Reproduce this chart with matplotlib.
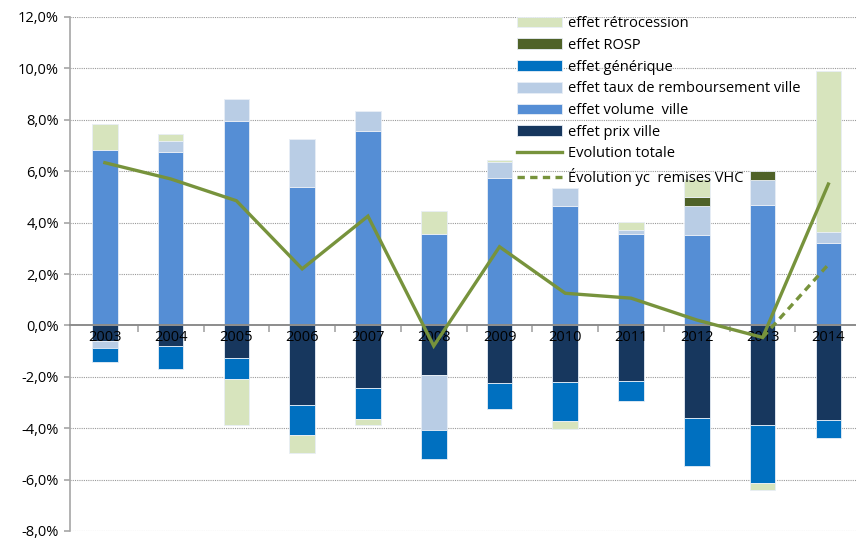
import numpy as np
import matplotlib
matplotlib.use("Agg")
import matplotlib.pyplot as plt
from matplotlib.ticker import FuncFormatter, FixedLocator

plt.rcParams['font.family'] = ['Open Sans', 'DejaVu Sans']

years = ["2003", "2004", "2005", "2006", "2007", "2008",
         "2009", "2010", "2011", "2012", "2013", "2014"]

# contributions (points de %), series order as in the source workbook
prix_ville = [-0.60, -0.80, -1.27, -3.08, -2.42, -1.92, -2.25, -2.21, -2.17, -3.61, -3.86, -3.67]
volume_ville = [6.81, 6.76, 7.96, 5.39, 7.55, 3.56, 5.75, 4.65, 3.56, 3.52, 4.69, 3.22]
taux_remb = [-0.27, 0.42, 0.85, 1.85, 0.78, -2.15, 0.60, 0.68, 0.14, 1.13, 0.98, 0.41]
generique = [-0.56, -0.90, -0.82, -1.17, -1.23, -1.12, -1.02, -1.52, -0.76, -1.87, -2.27, -0.70]
rosp = [0, 0, 0, 0, 0, 0, 0, 0, 0, 0.34, 0.34, 0]
retrocession = [1.02, 0.27, -1.78, -0.71, -0.24, 0.90, 0.08, -0.31, 0.34, 0.71, -0.26, 6.27]

evol_totale = [6.33, 5.70, 4.85, 2.20, 4.25, -0.80, 3.06, 1.25, 1.06, 0.21, -0.47, 5.50]
evol_vhc = [np.nan] * 10 + [-0.47, 2.37]

series = [
    ("effet prix ville", prix_ville, "#17375E"),
    ("effet volume  ville", volume_ville, "#558ED5"),
    ("effet taux de remboursement ville", taux_remb, "#B9CDE5"),
    ("effet générique", generique, "#0070C0"),
    ("effet ROSP", rosp, "#4F6228"),
    ("effet rétrocession", retrocession, "#D7E4BD"),
]
line_col = "#77933C"

fig = plt.figure(figsize=(8.56, 5.40), dpi=100)
ax = fig.add_axes([70 / 856, 9 / 540, 786 / 856, 514 / 540])

x = np.arange(len(years))
pos = np.zeros(len(years))
neg = np.zeros(len(years))
handles = {}
for name, vals, col in series:
    v = np.array(vals, dtype=float)
    bottom = np.where(v >= 0, pos, neg)
    h = ax.bar(x, v, bottom=bottom, width=0.39, color=col,
               edgecolor="#E8EEF6", linewidth=0.6, zorder=1)
    handles[name] = h
    pos = pos + np.where(v > 0, v, 0)
    neg = neg + np.where(v < 0, v, 0)

l1, = ax.plot(x, evol_totale, color=line_col, lw=2.4, zorder=4,
              solid_joinstyle="miter")
l2, = ax.plot(x, evol_vhc, color=line_col, lw=2.4, ls=(0, (2.2, 1.6)), zorder=4)

# grid
for g in np.arange(-8, 13, 2):
    if g != 0:
        ax.axhline(g, color="#9A9A9A", lw=0.8, ls=(0, (1, 1)), zorder=0.5)

ax.set_ylim(-8, 12)
ax.set_xlim(-0.53, 11.42)
ax.set_yticks(np.arange(-8, 13, 2))
ax.yaxis.set_major_formatter(FuncFormatter(lambda v, p: f"{v:.1f}%".replace(".", ",")))

ax.spines["top"].set_visible(False)
ax.spines["right"].set_visible(False)
ax.spines["left"].set_color("#A6A6A6")
ax.spines["left"].set_linewidth(1.2)
ax.spines["bottom"].set_position(("data", 0))
ax.spines["bottom"].set_color("#8C8C8C")
ax.spines["bottom"].set_linewidth(1.4)
ax.spines["bottom"].set_zorder(3)

ax.set_xticks(x)
ax.set_xticklabels(years)
ax.xaxis.set_minor_locator(FixedLocator(x[:-1] + 0.5))
ax.tick_params(axis="x", which="major", length=0, pad=3, labelsize=10.5, colors="#000000")
ax.tick_params(axis="x", which="minor", length=5, width=1.2, color="#A6A6A6")
ax.tick_params(axis="y", length=4, width=1.2, color="#A6A6A6", labelsize=10.5, pad=4)

order = ["effet rétrocession", "effet ROSP", "effet générique",
         "effet taux de remboursement ville", "effet volume  ville", "effet prix ville"]
leg = ax.legend([handles[n] for n in order] + [l1, l2],
                order + ["Evolution totale", "Évolution yc  remises VHC"],
                loc="upper left", bbox_to_anchor=(507 / 856, 1 - 6 / 540),
                bbox_transform=fig.transFigure,
                frameon=False, fontsize=10.5, handlelength=3.1, handleheight=0.75,
                labelspacing=0.46, handletextpad=0.35, borderaxespad=0.3)
leg.set_zorder(5)

fig.savefig("out.png", dpi=100)
